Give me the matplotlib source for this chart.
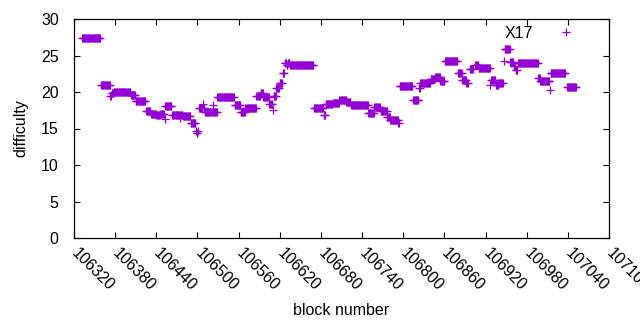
import numpy as np
import matplotlib
matplotlib.use("Agg")
import matplotlib.pyplot as plt

# runs of equal difficulty: first block, last block, difficulty
run_start = [106332, 106360, 106373, 106375, 106378, 106403, 106410, 106425, 106432, 106440,
             106446, 106452, 106453, 106463, 106475, 106476, 106479, 106490, 106498, 106499,
             106501, 106502, 106508, 106509, 106511, 106523, 106524, 106529, 106554, 106563,
             106570, 106586, 106592, 106596, 106605, 106610, 106611, 106615, 106620, 106624,
             106627, 106630, 106632, 106635, 106670, 106684, 106687, 106697, 106707, 106717,
             106724, 106749, 106758, 106767, 106777, 106781, 106793, 106795, 106814, 106823,
             106825, 106840, 106847, 106854, 106861, 106880, 106886, 106892, 106897, 106905,
             106910, 106927, 106928, 106935, 106939, 106947, 106948, 106956, 106961, 106964,
             106967, 106975, 106997, 107000, 107014, 107015, 107039]
run_end = [106358, 106372, 106374, 106377, 106402, 106409, 106424, 106431, 106439, 106445,
           106451, 106452, 106462, 106474, 106475, 106478, 106489, 106497, 106498, 106500,
           106501, 106507, 106508, 106510, 106522, 106523, 106528, 106553, 106562, 106569,
           106585, 106591, 106595, 106604, 106609, 106610, 106614, 106619, 106623, 106626,
           106629, 106631, 106634, 106669, 106683, 106686, 106696, 106706, 106716, 106723,
           106748, 106757, 106766, 106776, 106780, 106792, 106794, 106813, 106822, 106824,
           106839, 106846, 106853, 106860, 106879, 106885, 106891, 106894, 106901, 106909,
           106926, 106927, 106934, 106938, 106945, 106947, 106955, 106960, 106963, 106966,
           106974, 106996, 106999, 107013, 107014, 107036, 107052]
run_diff = [27.4, 20.9, 19.5, 19.8, 20.0, 19.6, 18.7, 17.35, 17.0, 16.85,
            17.0, 16.3, 18.05, 16.9, 16.5, 16.9, 16.7, 15.7, 14.65, 14.4,
            14.7, 17.85, 18.3, 17.85, 17.2, 18.2, 17.2, 19.3, 18.2, 17.2,
            17.85, 19.5, 19.9, 19.3, 18.3, 17.6, 19.4, 20.5, 21.3, 22.6,
            24.0, 23.7, 24.0, 23.7, 17.8, 16.85, 18.35, 18.55, 18.9, 18.65,
            18.25, 17.1, 18.0, 17.4, 16.6, 16.2, 15.8, 20.8, 18.9, 20.6,
            21.3, 21.8, 22.1, 21.5, 24.25, 22.55, 21.6, 21.2, 23.15, 23.7,
            23.25, 20.9, 21.6, 20.9, 21.3, 24.25, 25.85, 24.05, 23.5, 23.0,
            24.0, 23.95, 21.85, 21.45, 20.3, 22.55, 20.65]

x_ticks = list(range(106320, 107101, 60))
y_ticks = [0, 5, 10, 15, 20, 25, 30]

blocks = []
diffs = []
for s, e, d in zip(run_start, run_end, run_diff):
    for b in range(s, e + 1):
        blocks.append(b)
        diffs.append(d)

plt.rcParams['font.family'] = ['Liberation Sans', 'DejaVu Sans']
plt.rcParams['font.size'] = 11.5

fig = plt.figure(figsize=(6.4, 3.3), dpi=100)
ax = fig.add_axes([74/640, 92/330, 535/640, 219/330])

ax.plot(blocks, diffs, linestyle='none', marker='+', markersize=5.2,
        markeredgewidth=0.9, color='#9400D3', label='X17')

ax.set_xlim(106320, 107100)
ax.set_ylim(0, 30)
ax.set_xticks(x_ticks)
ax.set_yticks(y_ticks)
ax.tick_params(direction='in', length=4.5, width=0.8, top=True, right=True)
ax.tick_params(axis='x', pad=9)
ax.tick_params(axis='y', pad=11)
for lab in ax.get_xticklabels():
    lab.set_rotation(-45)
    lab.set_ha('left')
    lab.set_va('center')
    lab.set_rotation_mode('anchor')
for sp in ax.spines.values():
    sp.set_linewidth(0.9)

ax.set_xlabel('block number', labelpad=7)
ax.set_ylabel('difficulty', labelpad=9)
ax.legend(loc='upper right', bbox_to_anchor=(0.983, 1.012), markerfirst=False,
          frameon=False, handlelength=3.0, handletextpad=0.6,
          borderaxespad=0.3, borderpad=0.3)

fig.savefig('out.png', dpi=100)
